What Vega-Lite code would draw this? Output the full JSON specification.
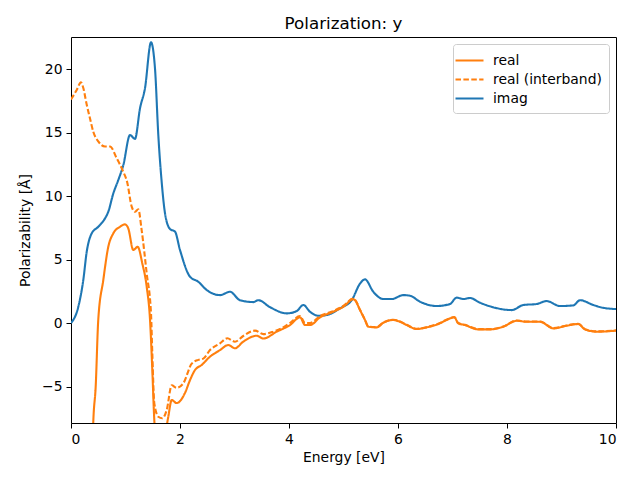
{
  "$schema": "https://vega.github.io/schema/vega-lite/v6.json",
  "width": 545,
  "height": 386,
  "autosize": {"type": "none"},
  "padding": {"left": 71, "top": 37, "right": 24, "bottom": 57},
  "title": {"text": "Polarization: y", "fontSize": 16.7, "fontWeight": "normal", "font": "DejaVu Sans", "color": "black", "offset": 4, "anchor": "middle"},
  "config": {
    "view": {"stroke": "black", "strokeWidth": 1},
    "font": "DejaVu Sans",
    "axis": {"domain": false, "grid": false, "tickColor": "black", "tickSize": 5, "tickWidth": 1, "labelFontSize": 13.9, "labelColor": "black", "labelPadding": 4, "titleFontSize": 13.9, "titleFontWeight": "normal", "titleColor": "black", "labelFont": "DejaVu Sans", "titleFont": "DejaVu Sans"}
  },
  "data": {"values": [
    {"E": 0, "v": 0, "s": "imag"},
    {"E": 0.134, "v": 1.28, "s": "imag"},
    {"E": 0.226, "v": 3.4, "s": "imag"},
    {"E": 0.288, "v": 5.6, "s": "imag"},
    {"E": 0.38, "v": 7.06, "s": "imag"},
    {"E": 0.5, "v": 7.58, "s": "imag"},
    {"E": 0.624, "v": 8.24, "s": "imag"},
    {"E": 0.684, "v": 8.76, "s": "imag"},
    {"E": 0.776, "v": 10.2, "s": "imag"},
    {"E": 0.868, "v": 11.26, "s": "imag"},
    {"E": 0.96, "v": 12.44, "s": "imag"},
    {"E": 1.083, "v": 14.8, "s": "imag"},
    {"E": 1.174, "v": 14.5, "s": "imag"},
    {"E": 1.266, "v": 16.9, "s": "imag"},
    {"E": 1.358, "v": 18.5, "s": "imag"},
    {"E": 1.468, "v": 22.1, "s": "imag"},
    {"E": 1.541, "v": 20.05, "s": "imag"},
    {"E": 1.602, "v": 14.8, "s": "imag"},
    {"E": 1.664, "v": 11.1, "s": "imag"},
    {"E": 1.725, "v": 8.64, "s": "imag"},
    {"E": 1.817, "v": 7.4, "s": "imag"},
    {"E": 1.908, "v": 7.2, "s": "imag"},
    {"E": 2.0, "v": 5.75, "s": "imag"},
    {"E": 2.183, "v": 3.65, "s": "imag"},
    {"E": 2.336, "v": 3.25, "s": "imag"},
    {"E": 2.49, "v": 2.6, "s": "imag"},
    {"E": 2.734, "v": 2.2, "s": "imag"},
    {"E": 2.917, "v": 2.46, "s": "imag"},
    {"E": 3.1, "v": 1.8, "s": "imag"},
    {"E": 3.345, "v": 1.65, "s": "imag"},
    {"E": 3.437, "v": 1.8, "s": "imag"},
    {"E": 3.651, "v": 1.25, "s": "imag"},
    {"E": 3.958, "v": 0.76, "s": "imag"},
    {"E": 4.14, "v": 0.94, "s": "imag"},
    {"E": 4.262, "v": 1.42, "s": "imag"},
    {"E": 4.385, "v": 0.89, "s": "imag"},
    {"E": 4.538, "v": 0.57, "s": "imag"},
    {"E": 4.692, "v": 0.63, "s": "imag"},
    {"E": 4.936, "v": 1.16, "s": "imag"},
    {"E": 5.15, "v": 1.8, "s": "imag"},
    {"E": 5.303, "v": 3.1, "s": "imag"},
    {"E": 5.394, "v": 3.44, "s": "imag"},
    {"E": 5.547, "v": 2.46, "s": "imag"},
    {"E": 5.73, "v": 1.89, "s": "imag"},
    {"E": 5.884, "v": 1.89, "s": "imag"},
    {"E": 6.097, "v": 2.2, "s": "imag"},
    {"E": 6.22, "v": 2.15, "s": "imag"},
    {"E": 6.404, "v": 1.68, "s": "imag"},
    {"E": 6.71, "v": 1.34, "s": "imag"},
    {"E": 6.954, "v": 1.5, "s": "imag"},
    {"E": 7.077, "v": 2.0, "s": "imag"},
    {"E": 7.198, "v": 1.89, "s": "imag"},
    {"E": 7.32, "v": 1.97, "s": "imag"},
    {"E": 7.505, "v": 1.6, "s": "imag"},
    {"E": 7.749, "v": 1.24, "s": "imag"},
    {"E": 8.086, "v": 1.02, "s": "imag"},
    {"E": 8.3, "v": 1.42, "s": "imag"},
    {"E": 8.545, "v": 1.5, "s": "imag"},
    {"E": 8.728, "v": 1.73, "s": "imag"},
    {"E": 8.972, "v": 1.34, "s": "imag"},
    {"E": 9.217, "v": 1.39, "s": "imag"},
    {"E": 9.34, "v": 1.8, "s": "imag"},
    {"E": 9.583, "v": 1.42, "s": "imag"},
    {"E": 9.767, "v": 1.2, "s": "imag"},
    {"E": 10.0, "v": 1.1, "s": "imag"},

    {"E": 0.38, "v": -12, "s": "real"},
    {"E": 0.409, "v": -7.77, "s": "real"},
    {"E": 0.453, "v": -5.0, "s": "real"},
    {"E": 0.5, "v": 0.24, "s": "real"},
    {"E": 0.593, "v": 3.4, "s": "real"},
    {"E": 0.684, "v": 6.0, "s": "real"},
    {"E": 0.776, "v": 7.06, "s": "real"},
    {"E": 0.899, "v": 7.58, "s": "real"},
    {"E": 0.991, "v": 7.77, "s": "real"},
    {"E": 1.051, "v": 7.45, "s": "real"},
    {"E": 1.143, "v": 5.75, "s": "real"},
    {"E": 1.224, "v": 6.0, "s": "real"},
    {"E": 1.308, "v": 4.7, "s": "real"},
    {"E": 1.389, "v": 2.86, "s": "real"},
    {"E": 1.45, "v": 0.24, "s": "real"},
    {"E": 1.492, "v": -3.7, "s": "real"},
    {"E": 1.528, "v": -7.6, "s": "real"},
    {"E": 1.6, "v": -10.5, "s": "real"},
    {"E": 1.7, "v": -9.5, "s": "real"},
    {"E": 1.785, "v": -7.38, "s": "real"},
    {"E": 1.848, "v": -6.06, "s": "real"},
    {"E": 1.939, "v": -6.3, "s": "real"},
    {"E": 2.092, "v": -5.5, "s": "real"},
    {"E": 2.183, "v": -4.5, "s": "real"},
    {"E": 2.275, "v": -3.7, "s": "real"},
    {"E": 2.398, "v": -3.3, "s": "real"},
    {"E": 2.55, "v": -2.65, "s": "real"},
    {"E": 2.734, "v": -2.13, "s": "real"},
    {"E": 2.886, "v": -1.73, "s": "real"},
    {"E": 3.009, "v": -1.99, "s": "real"},
    {"E": 3.16, "v": -1.47, "s": "real"},
    {"E": 3.407, "v": -1.0, "s": "real"},
    {"E": 3.529, "v": -1.22, "s": "real"},
    {"E": 3.774, "v": -0.68, "s": "real"},
    {"E": 4.018, "v": -0.16, "s": "real"},
    {"E": 4.202, "v": 0.45, "s": "real"},
    {"E": 4.294, "v": -0.16, "s": "real"},
    {"E": 4.385, "v": -0.16, "s": "real"},
    {"E": 4.569, "v": 0.45, "s": "real"},
    {"E": 4.813, "v": 0.89, "s": "real"},
    {"E": 4.996, "v": 1.28, "s": "real"},
    {"E": 5.18, "v": 1.87, "s": "real"},
    {"E": 5.21, "v": 1.8, "s": "real"},
    {"E": 5.303, "v": 1.02, "s": "real"},
    {"E": 5.394, "v": 0.24, "s": "real"},
    {"E": 5.455, "v": -0.29, "s": "real"},
    {"E": 5.61, "v": -0.34, "s": "real"},
    {"E": 5.73, "v": 0.02, "s": "real"},
    {"E": 5.914, "v": 0.24, "s": "real"},
    {"E": 6.037, "v": 0.1, "s": "real"},
    {"E": 6.16, "v": -0.16, "s": "real"},
    {"E": 6.343, "v": -0.47, "s": "real"},
    {"E": 6.527, "v": -0.34, "s": "real"},
    {"E": 6.77, "v": -0.02, "s": "real"},
    {"E": 6.89, "v": 0.24, "s": "real"},
    {"E": 7.033, "v": 0.45, "s": "real"},
    {"E": 7.106, "v": -0.02, "s": "real"},
    {"E": 7.229, "v": -0.16, "s": "real"},
    {"E": 7.473, "v": -0.5, "s": "real"},
    {"E": 7.688, "v": -0.5, "s": "real"},
    {"E": 7.932, "v": -0.29, "s": "real"},
    {"E": 8.178, "v": 0.18, "s": "real"},
    {"E": 8.36, "v": 0.1, "s": "real"},
    {"E": 8.605, "v": 0.1, "s": "real"},
    {"E": 8.85, "v": -0.42, "s": "real"},
    {"E": 9.095, "v": -0.21, "s": "real"},
    {"E": 9.308, "v": -0.08, "s": "real"},
    {"E": 9.43, "v": -0.5, "s": "real"},
    {"E": 9.646, "v": -0.68, "s": "real"},
    {"E": 10.0, "v": -0.6, "s": "real"},

    {"E": 0, "v": 17.6, "s": "real (interband)"},
    {"E": 0.105, "v": 18.35, "s": "real (interband)"},
    {"E": 0.183, "v": 18.95, "s": "real (interband)"},
    {"E": 0.226, "v": 18.5, "s": "real (interband)"},
    {"E": 0.288, "v": 17.2, "s": "real (interband)"},
    {"E": 0.349, "v": 16.1, "s": "real (interband)"},
    {"E": 0.409, "v": 15.06, "s": "real (interband)"},
    {"E": 0.5, "v": 14.3, "s": "real (interband)"},
    {"E": 0.624, "v": 13.9, "s": "real (interband)"},
    {"E": 0.716, "v": 13.9, "s": "real (interband)"},
    {"E": 0.839, "v": 12.97, "s": "real (interband)"},
    {"E": 0.96, "v": 11.9, "s": "real (interband)"},
    {"E": 1.03, "v": 11.1, "s": "real (interband)"},
    {"E": 1.114, "v": 9.16, "s": "real (interband)"},
    {"E": 1.174, "v": 8.76, "s": "real (interband)"},
    {"E": 1.235, "v": 8.95, "s": "real (interband)"},
    {"E": 1.297, "v": 7.3, "s": "real (interband)"},
    {"E": 1.389, "v": 3.9, "s": "real (interband)"},
    {"E": 1.468, "v": 0.76, "s": "real (interband)"},
    {"E": 1.492, "v": -2.4, "s": "real (interband)"},
    {"E": 1.528, "v": -6.3, "s": "real (interband)"},
    {"E": 1.602, "v": -7.38, "s": "real (interband)"},
    {"E": 1.675, "v": -7.5, "s": "real (interband)"},
    {"E": 1.756, "v": -6.85, "s": "real (interband)"},
    {"E": 1.848, "v": -4.9, "s": "real (interband)"},
    {"E": 1.939, "v": -5.1, "s": "real (interband)"},
    {"E": 2.06, "v": -4.75, "s": "real (interband)"},
    {"E": 2.215, "v": -3.2, "s": "real (interband)"},
    {"E": 2.336, "v": -2.9, "s": "real (interband)"},
    {"E": 2.428, "v": -2.8, "s": "real (interband)"},
    {"E": 2.55, "v": -2.13, "s": "real (interband)"},
    {"E": 2.734, "v": -1.6, "s": "real (interband)"},
    {"E": 2.868, "v": -1.2, "s": "real (interband)"},
    {"E": 3.009, "v": -1.47, "s": "real (interband)"},
    {"E": 3.16, "v": -1.02, "s": "real (interband)"},
    {"E": 3.376, "v": -0.6, "s": "real (interband)"},
    {"E": 3.529, "v": -0.87, "s": "real (interband)"},
    {"E": 3.712, "v": -0.68, "s": "real (interband)"},
    {"E": 3.835, "v": -0.47, "s": "real (interband)"},
    {"E": 4.018, "v": 0.0, "s": "real (interband)"},
    {"E": 4.202, "v": 0.55, "s": "real (interband)"},
    {"E": 4.294, "v": 0.0, "s": "real (interband)"},
    {"E": 4.385, "v": 0.0, "s": "real (interband)"},
    {"E": 4.569, "v": 0.55, "s": "real (interband)"},
    {"E": 4.813, "v": 0.95, "s": "real (interband)"},
    {"E": 4.996, "v": 1.35, "s": "real (interband)"},
    {"E": 5.18, "v": 1.92, "s": "real (interband)"},
    {"E": 5.21, "v": 1.85, "s": "real (interband)"},
    {"E": 5.303, "v": 1.05, "s": "real (interband)"},
    {"E": 5.394, "v": 0.26, "s": "real (interband)"},
    {"E": 5.455, "v": -0.27, "s": "real (interband)"},
    {"E": 5.61, "v": -0.32, "s": "real (interband)"},
    {"E": 5.73, "v": 0.04, "s": "real (interband)"},
    {"E": 5.914, "v": 0.26, "s": "real (interband)"},
    {"E": 6.037, "v": 0.12, "s": "real (interband)"},
    {"E": 6.16, "v": -0.14, "s": "real (interband)"},
    {"E": 6.343, "v": -0.45, "s": "real (interband)"},
    {"E": 6.527, "v": -0.32, "s": "real (interband)"},
    {"E": 6.77, "v": 0.0, "s": "real (interband)"},
    {"E": 6.89, "v": 0.26, "s": "real (interband)"},
    {"E": 7.033, "v": 0.47, "s": "real (interband)"},
    {"E": 7.106, "v": 0.0, "s": "real (interband)"},
    {"E": 7.229, "v": -0.14, "s": "real (interband)"},
    {"E": 7.473, "v": -0.48, "s": "real (interband)"},
    {"E": 7.688, "v": -0.48, "s": "real (interband)"},
    {"E": 7.932, "v": -0.27, "s": "real (interband)"},
    {"E": 8.178, "v": 0.2, "s": "real (interband)"},
    {"E": 8.36, "v": 0.12, "s": "real (interband)"},
    {"E": 8.605, "v": 0.12, "s": "real (interband)"},
    {"E": 8.85, "v": -0.4, "s": "real (interband)"},
    {"E": 9.095, "v": -0.19, "s": "real (interband)"},
    {"E": 9.308, "v": -0.06, "s": "real (interband)"},
    {"E": 9.43, "v": -0.48, "s": "real (interband)"},
    {"E": 9.646, "v": -0.66, "s": "real (interband)"},
    {"E": 10.0, "v": -0.58, "s": "real (interband)"}
  ]},
  "mark": {"type": "line", "clip": true, "strokeWidth": 2.1, "interpolate": "monotone"},
  "encoding": {
    "x": {"field": "E", "type": "quantitative", "scale": {"domain": [0, 10], "nice": false, "zero": false},
          "axis": {"title": "Energy [eV]", "values": [0, 2, 4, 6, 8, 10], "titlePadding": 5}},
    "y": {"field": "v", "type": "quantitative", "scale": {"domain": [-7.87, 22.52], "nice": false, "zero": false},
          "axis": {"title": "Polarizability [Å]", "values": [-5, 0, 5, 10, 15, 20], "titlePadding": 9}},
    "color": {"field": "s", "type": "nominal",
      "scale": {"domain": ["real", "real (interband)", "imag"], "range": ["#ff7f0e", "#ff7f0e", "#1f77b4"]},
      "legend": {"title": null, "orient": "top-right", "offset": 7, "padding": 7, "fillColor": "white", "strokeColor": "#cccccc", "cornerRadius": 3,
        "labelFontSize": 13.9, "labelColor": "black", "labelFont": "DejaVu Sans", "labelOffset": 14, "rowPadding": 2,
        "symbolType": "M-1.75,0L1.75,0", "symbolSize": 256, "symbolStrokeWidth": 2.1}},
    "strokeDash": {"field": "s", "type": "nominal",
      "scale": {"domain": ["real", "real (interband)", "imag"], "range": [[1, 0], [5.5, 2.4], [1, 0]]},
      "legend": null}
  }
}
